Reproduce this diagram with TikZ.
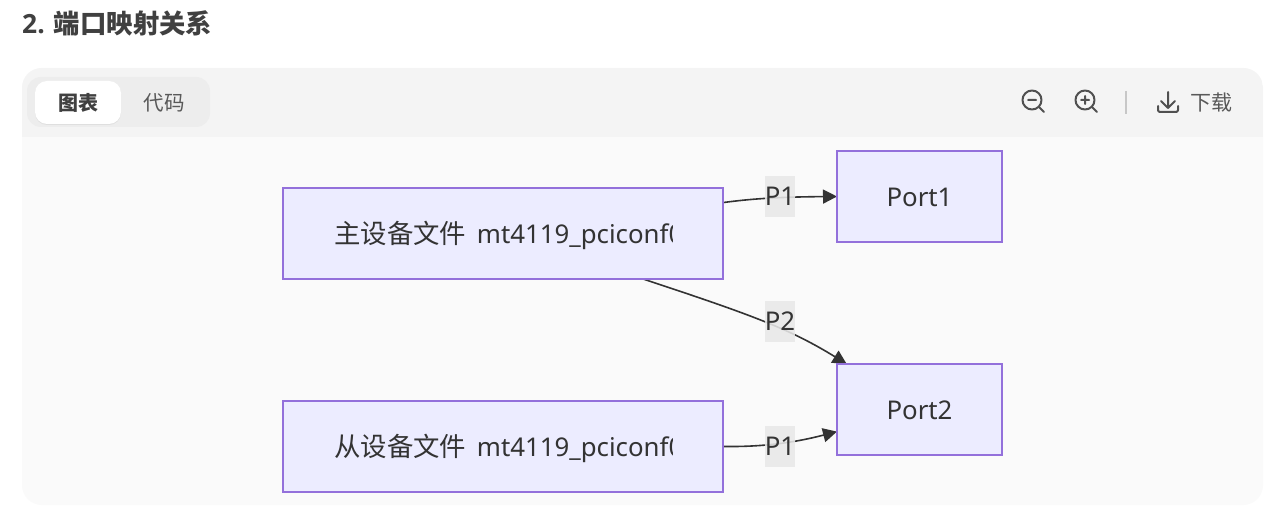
\documentclass[tikz,border=0pt]{standalone}
\usepackage{fontspec}
\setmainfont{Noto Sans}
\newfontfamily\cjk{Noto Sans CJK SC}
\newfontfamily\headfont{Open Sans}
\usetikzlibrary{arrows.meta,shadows}
\definecolor{boxfill}{HTML}{ECECFF}
\definecolor{boxline}{HTML}{9370DB}
\definecolor{inktext}{HTML}{333333}
\definecolor{icongray}{HTML}{505050}
\pgfdeclarelayer{panel}
\pgfdeclarelayer{edgelayer}
\pgfsetlayers{panel,edgelayer,main}
\tikzset{
	devbox/.style={rectangle,draw=boxline,fill=boxfill,line width=1.7pt,minimum width=440pt,minimum height=91pt,inner sep=0pt,outer sep=0pt},
	portbox/.style={devbox,minimum width=165pt},
	boxtext/.style={anchor=west,inner sep=0pt,text=inktext,font=\fontsize{25.8}{30}\selectfont},
	portlabel/.style={fill=black!9,fill opacity=0.88,text opacity=1,text=inktext,minimum width=30pt,minimum height=41pt,inner sep=0pt,font=\fontsize{25.8}{30}\selectfont},
	edge/.style={-{Triangle[length=14pt,width=14pt]},draw=inktext,line width=1.6pt},
	icon/.style={draw=icongray,line width=2pt,line cap=round,line join=round},
	tooltext/.style={inner sep=0pt,font=\fontsize{20.5}{24}\selectfont\cjk}
}
\begin{document}
\begin{tikzpicture}[x=1pt,y=-1pt]
		\useasboundingbox (0,0) rectangle (1270,529);
		\node[anchor=west,inner sep=0pt,text=black!75,font=\fontsize{26.4}{30}\selectfont\bfseries] (title) at (22,23) {{\headfont 2.} {\cjk 端口映射关系}};
		
		% panel and toolbar
		\begin{pgfonlayer}{panel}
		\fill[white] (0,0) rectangle (1270,529);
		\fill[rounded corners=20pt,fill=black!2] (22,68) rectangle (1263,505);
		\begin{scope}
		\clip[rounded corners=20pt] (22,68) rectangle (1263,505);
		\fill[fill=black!4.5] (22,68) rectangle (1263,137);
		\end{scope}
		\fill[rounded corners=14pt,fill=black!7] (27,77) rectangle (210,127);
		\fill[rounded corners=12pt,fill=white,drop shadow={shadow xshift=0pt,shadow yshift=-1pt,opacity=0.12}] (35,81) rectangle (121,124);
		\end{pgfonlayer}
		\node[tooltext,text=black!75,font=\fontsize{20}{24}\selectfont\cjk\bfseries] (tabchart) at (78,103) {图表};
		\node[tooltext,text=black!65] (tabcode) at (164,103) {代码};
		
		% zoom out, zoom in, download
		\draw[icon] (1032,100) circle (9.5) (1039,107) -- (1044,112) (1028,100) -- (1036,100);
		\draw[icon] (1085,100) circle (9.5) (1092,107) -- (1097,112) (1081,100) -- (1089,100) (1085,96) -- (1085,104);
		\draw[draw=black!22,line width=1.2pt] (1126,91) -- (1126,114);
		\draw[icon] (1168,92) -- (1168,108) (1161,101) -- (1168,108) -- (1175,101);
		\draw[icon,rounded corners=2pt] (1158,106) -- (1158,112) -- (1178,112) -- (1178,106);
		\node[tooltext,text=black!65,font=\fontsize{21}{24}\selectfont\cjk] (download) at (1211,103) {下载};
		
		% boxes
		\node[devbox] (mainfile) at (503,233.5) {};
		\node[devbox] (slavefile) at (503,446.5) {};
		\node[portbox] (port1) at (919.5,196.5) {};
		\node[portbox] (port2) at (919.5,409.5) {};
		
		\begin{scope}
		\clip (330,200) rectangle (672,270);
		\node[boxtext] (maintext) at (334,235) {{\cjk\fontsize{26.4}{30}\selectfont 主设备文件}\hspace{4pt} mt4119\_pciconf0};
		\end{scope}
		\begin{scope}
		\clip (330,413) rectangle (672,483);
		\node[boxtext] (slavetext) at (334,448) {{\cjk\fontsize{26.4}{30}\selectfont 从设备文件}\hspace{4pt} mt4119\_pciconf0};
		\end{scope}
		\node[boxtext,anchor=center] (port1text) at (919.5,197.5) {Port1};
		\node[boxtext,anchor=center] (port2text) at (919.5,410.5) {Port2};
		
		% edges go under the boxes
		\begin{pgfonlayer}{edgelayer}
		\draw[edge] (mainfile.8) .. controls (750,199) and (775,197) .. (port1.west);
		\draw[edge] (mainfile.-18.4) .. controls (752,315) and (790,329) .. (port2.148);
		\draw[edge] (slavefile.east) .. controls (762,447) and (793,443) .. (port2.-165);
		\end{pgfonlayer}
		
		\node[portlabel] (p1top) at (780,196.5) {\raisebox{-1pt}{P1}};
		\node[portlabel] (p2mid) at (780,321.5) {\raisebox{-1pt}{P2}};
		\node[portlabel] (p1low) at (780,446.5) {\raisebox{-1pt}{P1}};
		\end{tikzpicture}
\end{document}
